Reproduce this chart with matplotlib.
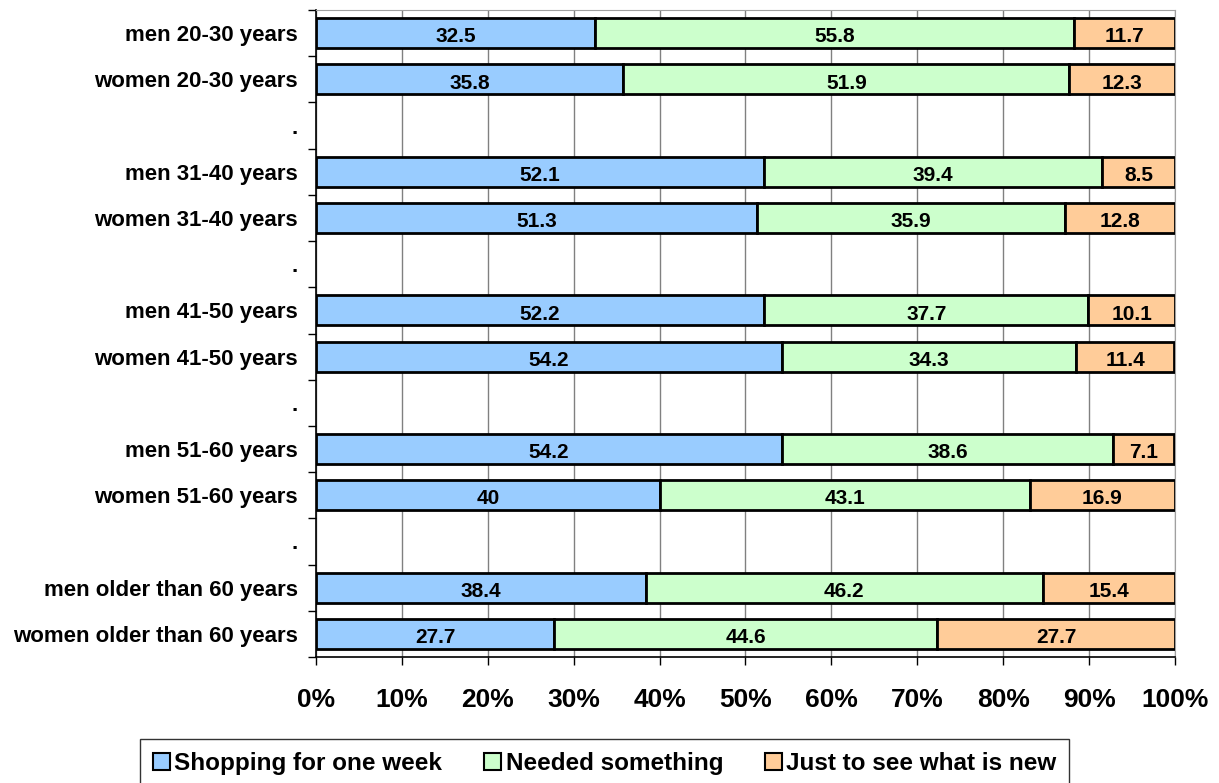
import matplotlib
matplotlib.use("Agg")
from matplotlib import pyplot as plt
import numpy as np

plt.rcParams['font.family'] = ['Liberation Sans', 'DejaVu Sans']

labels = ["men 20-30 years", "women 20-30 years", ".",
          "men 31-40 years", "women 31-40 years", ".",
          "men 41-50 years", "women 41-50 years", ".",
          "men 51-60 years", "women 51-60 years", ".",
          "men older than 60 years", "women older than 60 years"]
shopping = [32.5, 35.8, 0, 52.1, 51.3, 0, 52.2, 54.2, 0, 54.2, 40, 0, 38.4, 27.7]
needed = [55.8, 51.9, 0, 39.4, 35.9, 0, 37.7, 34.3, 0, 38.6, 43.1, 0, 46.2, 44.6]
just_see = [11.7, 12.3, 0, 8.5, 12.8, 0, 10.1, 11.4, 0, 7.1, 16.9, 0, 15.4, 27.7]
series_names = ["Shopping for one week", "Needed something", "Just to see what is new"]
colors = ["#99ccff", "#ccffcc", "#ffcc99"]

fig = plt.figure(figsize=(12.19, 7.83), dpi=100)
ax = fig.add_axes([0.2592, 0.1609, 0.7047, 0.8263])

y = np.arange(len(labels))
left = np.zeros(len(labels))
for vals, name, c in zip([shopping, needed, just_see], series_names, colors):
    vals = np.array(vals, dtype=float)
    mask = vals > 0
    ax.barh(y[mask], vals[mask], left=left[mask], height=0.65, color=c,
            edgecolor="black", linewidth=2, label=name, zorder=3)
    for yi, v, l in zip(y[mask], vals[mask], left[mask]):
        ax.text(l + v / 2, yi + 0.08, "%g" % v, ha="center", va="center",
                fontsize=15, fontweight="bold", zorder=4)
    left = left + vals

ax.set_xlim(0, 100)
ax.set_ylim(len(labels) - 0.5, -0.5)
ax.set_xticks(np.arange(0, 101, 10))
ax.set_xticklabels(["%d%%" % v for v in range(0, 101, 10)],
                   fontsize=19, fontweight="bold")
ax.set_yticks(y)
ax.set_yticklabels(labels, fontsize=16, fontweight="bold")
ax.tick_params(axis="y", length=0, pad=13)
ax.set_yticks(np.arange(-0.5, len(labels), 1), minor=True)
ax.tick_params(axis="y", which="minor", length=6, width=1)
ax.tick_params(axis="x", length=6, width=1, pad=16)
ax.grid(axis="x", color="#808080", linewidth=1, zorder=0)
for s in ["top", "right"]:
    ax.spines[s].set_color("#a0a0a0")
for s in ["left", "bottom"]:
    ax.spines[s].set_color("black")
    ax.spines[s].set_linewidth(1.2)

leg = fig.legend(loc="center", bbox_to_anchor=(0.496, 0.0255), ncol=3,
                 prop={"size": 17.5, "weight": "bold"}, frameon=True,
                 fancybox=False, handlelength=0.7, handleheight=0.7,
                 handletextpad=0.2, columnspacing=1.7, borderpad=0.5)
leg.get_frame().set_edgecolor("black")
leg.get_frame().set_linewidth(1)
for h in leg.legend_handles:
    h.set_linewidth(1.5)

fig.savefig("out.png", dpi=100)
